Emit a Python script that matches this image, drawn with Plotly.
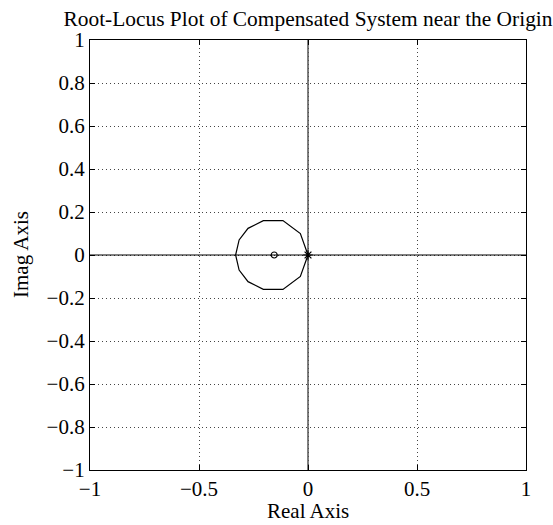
import plotly.graph_objects as go

# root locus branch near the origin (closed loop around the zero)
locus_re = [0.0, -0.035, -0.115, -0.205, -0.275, -0.316, -0.332,
            -0.316, -0.275, -0.205, -0.115, -0.035, 0.0]
locus_im = [0.0, 0.10, 0.16, 0.16, 0.124, 0.07, 0.0,
            -0.07, -0.124, -0.16, -0.16, -0.10, 0.0]

# real-axis portion of the locus
axis_re = [-1.0, 1.0]
axis_im = [0.0, 0.0]

zero_re, zero_im = [-0.155], [0.0]
pole_re, pole_im = [0.0], [0.0]

xticks = [-1, -0.5, 0, 0.5, 1]
yticks = [-1, -0.8, -0.6, -0.4, -0.2, 0, 0.2, 0.4, 0.6, 0.8, 1]


def lbl(v):
    return ("\u2212" + f"{abs(v):g}") if v < 0 else f"{v:g}"


font = "Liberation Serif, Times New Roman, serif"

fig = go.Figure()
fig.add_trace(go.Scatter(x=[0, 0], y=[-1, 1], mode="lines",
                         line=dict(color="#555555", width=1.5), hoverinfo="skip"))
fig.add_trace(go.Scatter(x=axis_re, y=axis_im, mode="lines",
                         line=dict(color="black", width=1.2)))
fig.add_trace(go.Scatter(x=locus_re, y=locus_im, mode="lines",
                         line=dict(color="black", width=1.2)))
fig.add_trace(go.Scatter(x=zero_re, y=zero_im, mode="markers",
                         marker=dict(symbol="circle-open", size=6, color="black",
                                     line=dict(width=1.2))))
fig.add_trace(go.Scatter(x=pole_re, y=pole_im, mode="markers",
                         marker=dict(symbol="asterisk-open", size=8, color="black",
                                     line=dict(width=1.2, color="black"))))

axis_common = dict(
    showgrid=True, gridcolor="#444444", griddash="1px,3px", gridwidth=1,
    zeroline=False, showline=True, linecolor="black", linewidth=1.3, mirror="ticks",
    ticks="inside", ticklen=5, tickcolor="black", automargin=False,
    tickfont=dict(family=font, size=21, color="black"),
)
fig.update_xaxes(range=[-1, 1], tickvals=xticks, ticktext=[lbl(v) for v in xticks],
                 **axis_common)
fig.update_yaxes(range=[-1, 1], tickvals=yticks, ticktext=[lbl(v) for v in yticks],
                 **axis_common)

# axis titles as annotations for exact placement
fig.add_annotation(text="Real Axis", xref="paper", yref="paper", x=0.5, y=0,
                   yshift=-41, yanchor="middle", showarrow=False,
                   font=dict(family=font, size=21, color="black"))
fig.add_annotation(text="Imag Axis", xref="paper", yref="paper", x=0, y=0.5,
                   xshift=-69, xanchor="center", textangle=-90, showarrow=False,
                   font=dict(family=font, size=21, color="black"))

fig.update_layout(
    width=553, height=525,
    margin=dict(l=90, r=27, t=40, b=55),
    plot_bgcolor="white", paper_bgcolor="white",
    showlegend=False,
    title=dict(text="Root-Locus Plot of Compensated System near the Origin",
               font=dict(family=font, size=21.4, color="black"),
               x=308 / 553, xanchor="center", y=1 - 19 / 525, yanchor="middle",
               automargin=False),
)
fig.write_html("out.html", config={"displayModeBar": False},
               post_script="document.body.style.margin='0';")
